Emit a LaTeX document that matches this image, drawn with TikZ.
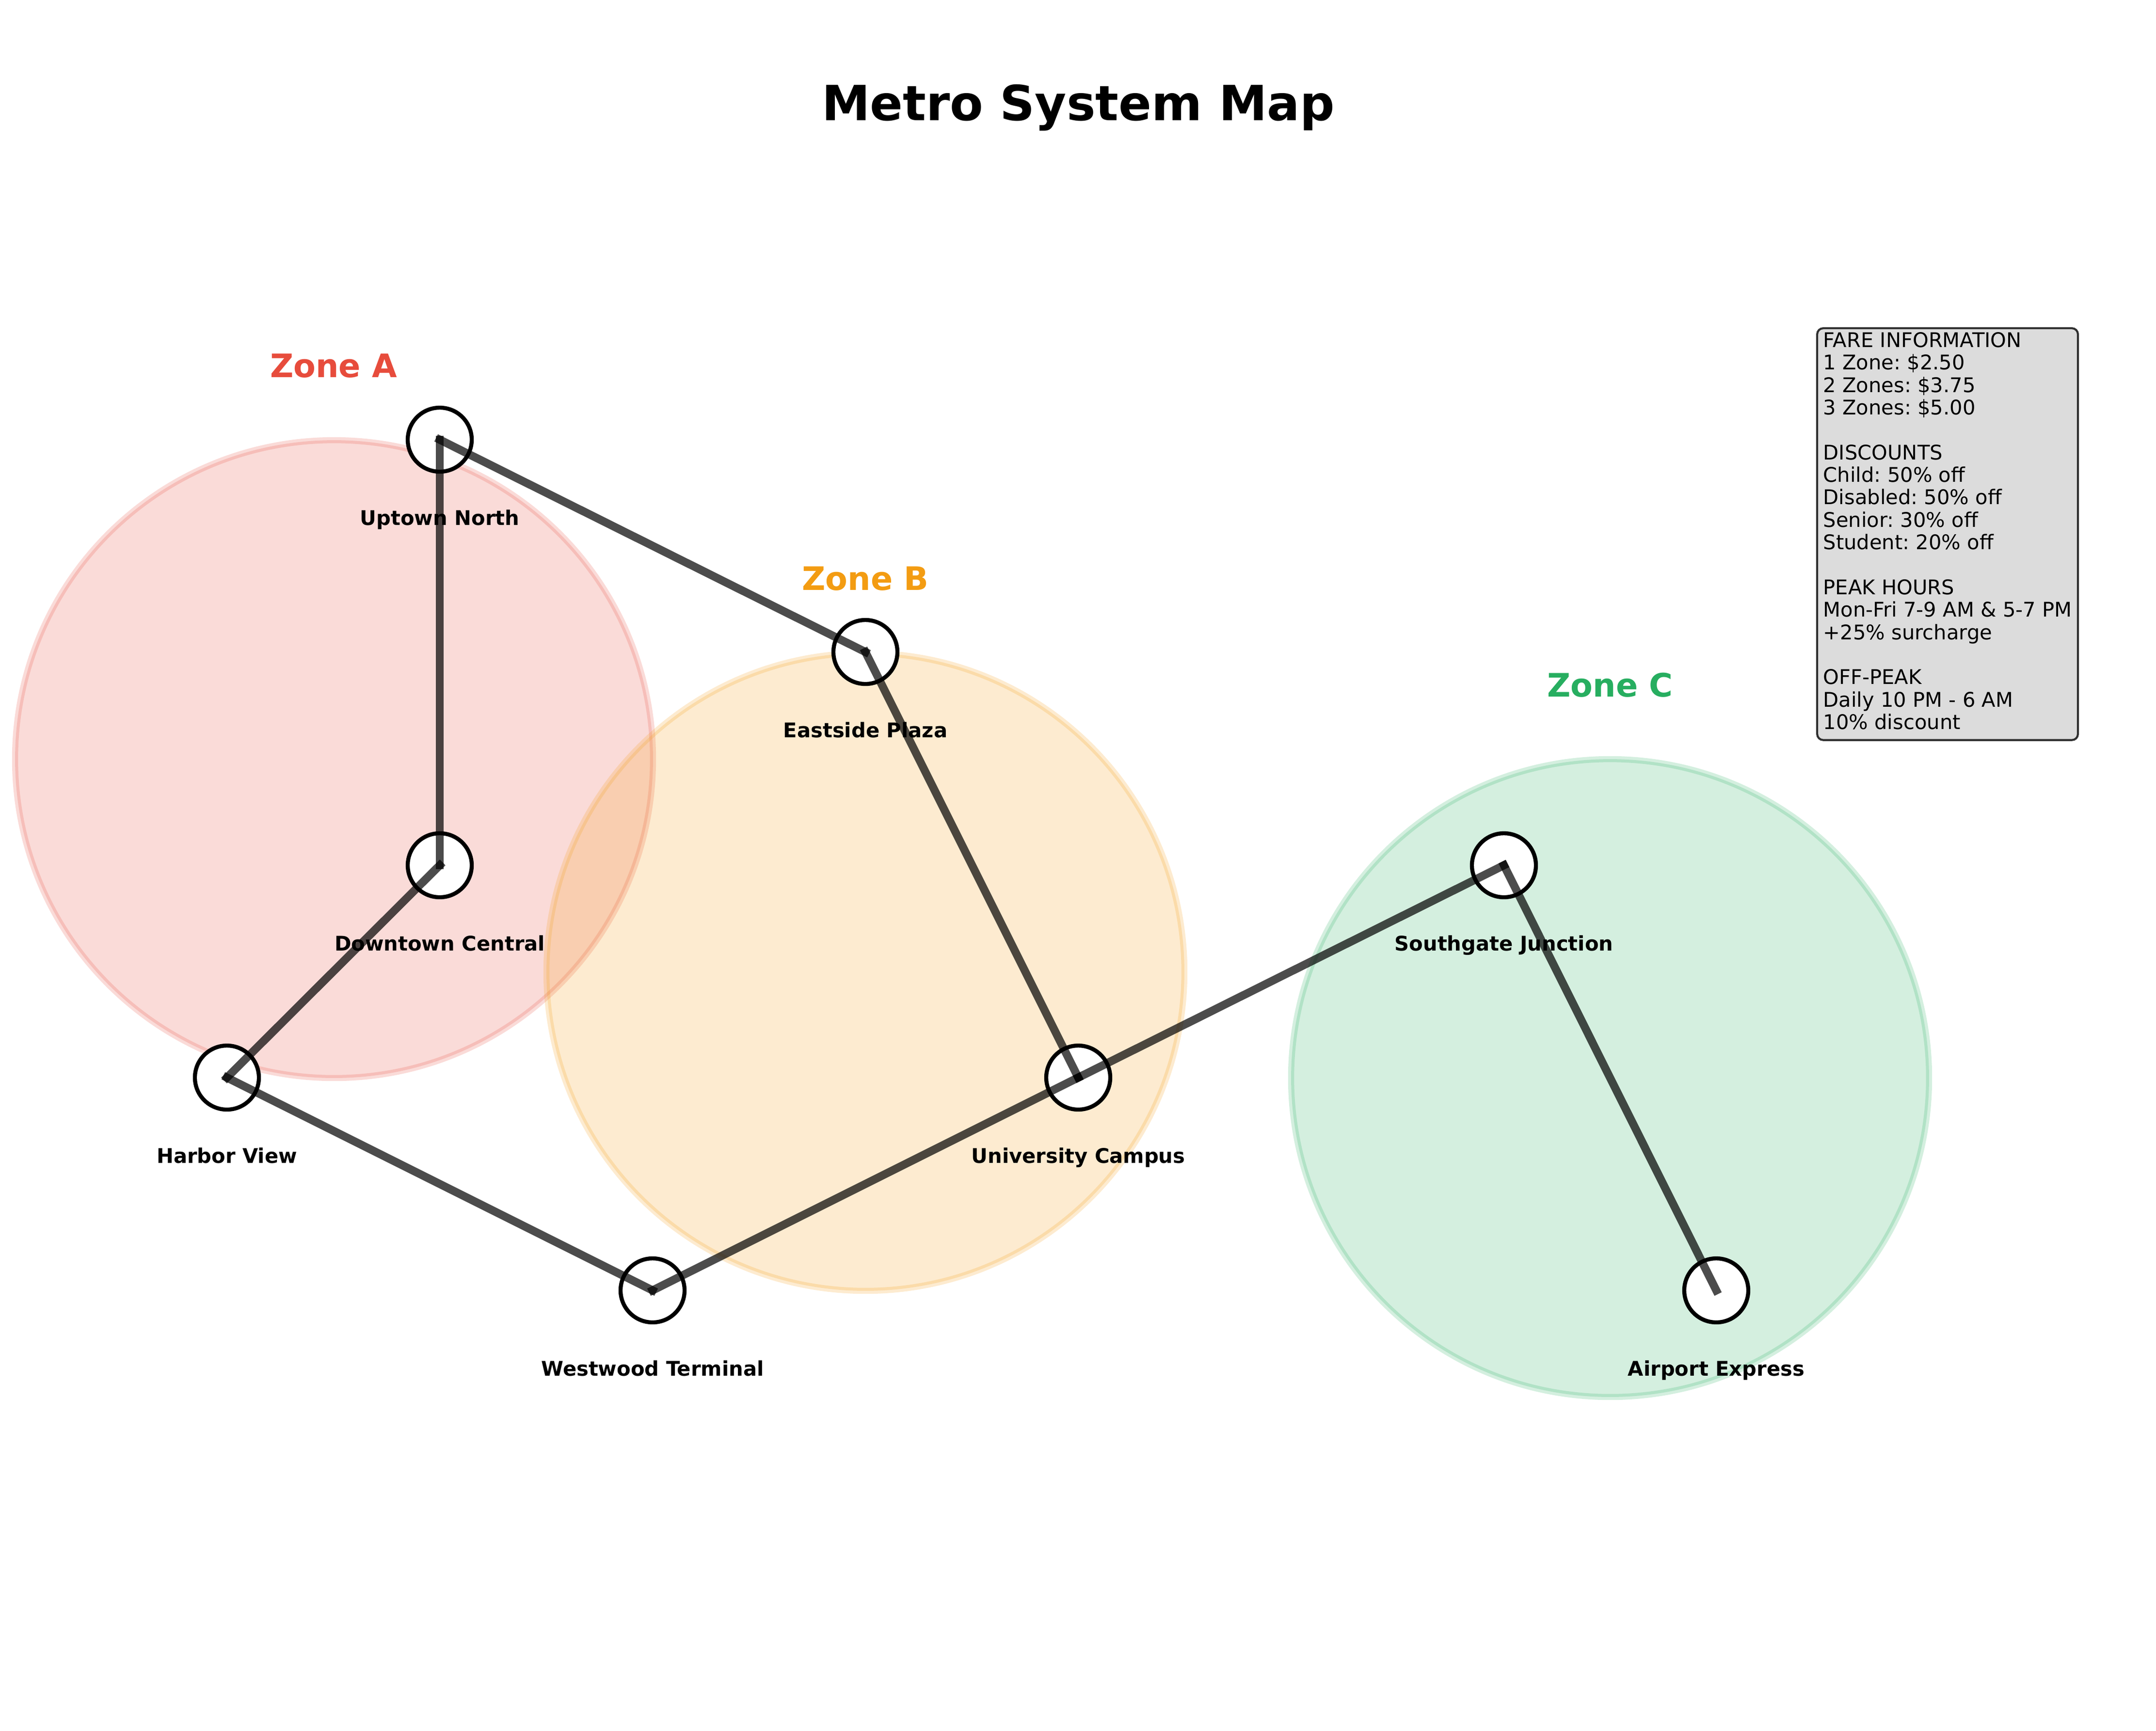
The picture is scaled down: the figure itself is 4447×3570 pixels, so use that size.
\documentclass[tikz,border=0pt]{standalone}
\usepackage{fontspec}
\setmainfont{DejaVu Sans}
\usetikzlibrary{shapes,positioning}
\definecolor{zonered}{HTML}{E74C3C}
\definecolor{zoneorange}{HTML}{F39C12}
\definecolor{zonegreen}{HTML}{27AE60}
\definecolor{boxgray}{HTML}{D3D3D3}
\tikzstyle{zone} = [circle, inner sep=0pt, outer sep=0pt, minimum size=315.8bp, line width=3bp, fill opacity=0.2, draw opacity=0.2]
\tikzstyle{zonelabel} = [font=\fontsize{16bp}{16bp}\bfseries\selectfont]
\tikzstyle{station} = [circle, draw=black, fill=white, line width=2bp, inner sep=0pt, outer sep=0pt, minimum size=31.68bp]
\tikzstyle{stationlabel} = [font=\fontsize{10bp}{12bp}\bfseries\selectfont, text height=7.5pt, text depth=2.5pt, inner sep=0pt]
\tikzstyle{track} = [draw=black, line width=4bp, draw opacity=0.7, line cap=rect]
\tikzstyle{farebox} = [rectangle, draw=black, draw opacity=0.8, fill=boxgray, fill opacity=0.8, text opacity=1, line width=1bp, rounded corners=3bp, align=left, anchor=north west, inner xsep=3bp, inner ysep=2bp, font=\fontsize{10bp}{11.17pt}\selectfont\frenchspacing]

\begin{document}
\begin{tikzpicture}[x=0.24bp,y=-0.24bp,node distance=39.75bp]
      \useasboundingbox (0,0) rectangle (4447,3570);

      \node [font=\fontsize{24bp}{24bp}\bfseries\selectfont] (title) at (2224,222) {Metro System Map};

      \node [zone, draw=zonered, fill=zonered] (zonea) at (689,1566) {};
      \node [zone, draw=zoneorange, fill=zoneorange] (zoneb) at (1785,2005) {};
      \node [zone, draw=zonegreen, fill=zonegreen] (zonec) at (3321,2224) {};
      \node [zonelabel, text=zonered] (labela) at (688,755) {Zone A};
      \node [zonelabel, text=zoneorange] (labelb) at (1785,1194) {Zone B};
      \node [zonelabel, text=zonegreen] (labelc) at (3321,1413) {Zone C};

      \node [station] (uptown) at (907,907) {};
      \node [station] (downtown) at (907,1785) {};
      \node [station] (harbor) at (468,2223) {};
      \node [station] (westwood) at (1346,2662) {};
      \node [station] (university) at (2224,2223) {};
      \node [station] (eastside) at (1785,1345) {};
      \node [station] (southgate) at (3102,1785) {};
      \node [station] (airport) at (3540,2662) {};

      \path [track] (downtown.center) -- (uptown.center);
      \path [track] (uptown.center) -- (eastside.center);
      \path [track] (eastside.center) -- (university.center);
      \path [track] (university.center) -- (southgate.center);
      \path [track] (southgate.center) -- (airport.center);
      \path [track] (downtown.center) -- (harbor.center);
      \path [track] (harbor.center) -- (westwood.center);
      \path [track] (westwood.center) -- (university.center);

      \node [stationlabel, below of=uptown] (uptownname) {Uptown North};
      \node [stationlabel, below of=downtown] (downtownname) {Downtown Central};
      \node [stationlabel, below of=harbor] (harborname) {Harbor View};
      \node [stationlabel, below of=westwood] (westwoodname) {Westwood Terminal};
      \node [stationlabel, below of=university] (universityname) {University Campus};
      \node [stationlabel, below of=eastside] (eastsidename) {Eastside Plaza};
      \node [stationlabel, below of=southgate] (southgatename) {Southgate Junction};
      \node [stationlabel, below of=airport] (airportname) {Airport Express};

      \node [farebox] (fares) at (3746,675) {FARE INFORMATION\\1 Zone: \$2.50\\2 Zones: \$3.75\\3 Zones: \$5.00\\[11.17pt]DISCOUNTS\\Child: 50\% off\\Disabled: 50\% off\\Senior: 30\% off\\Student: 20\% off\\[11.17pt]PEAK HOURS\\Mon-Fri 7-9 AM \& 5-7 PM\\+25\% surcharge\\[11.17pt]OFF-PEAK\\Daily 10 PM - 6 AM\\10\% discount\rule[-3.3bp]{0pt}{3.3bp}};
\end{tikzpicture}
\end{document}
